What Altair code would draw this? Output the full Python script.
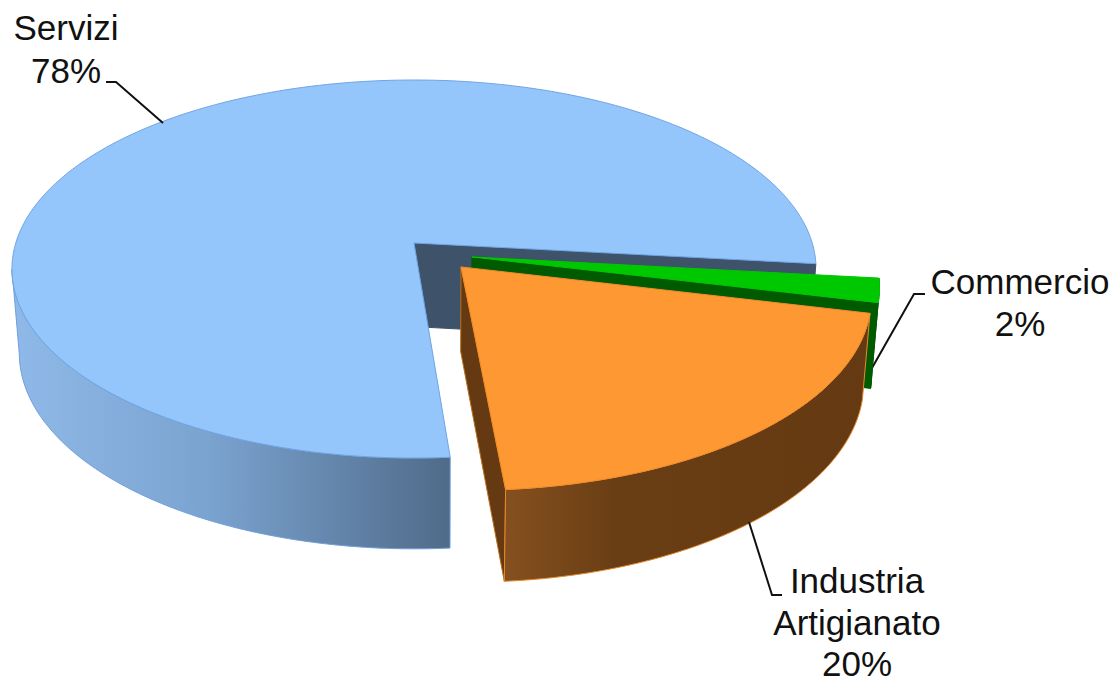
import math
import altair as alt
import pandas as pd

# ---- data
CATEGORIES = ["Servizi", "Industria Artigianato", "Commercio"]
SHARES = [78, 20, 2]
LABEL_LINES = [["Servizi"], ["Industria", "Artigianato"], ["Commercio"]]

# ---- layout of the perspective pie (image pixels)
D, F, G = 7.27, 2895.0, 1348.0
CX, AY = 414.0, 243.0
START_DEG = -6.3
OFFSETS = [(0.0, 0.0), (0.116, -0.127), (0.144, -0.0747)]
VANISH = (440.0, 5190.0)
W, H = 1101, 675


def proj(px, py):
    s = D + py
    return (CX + F * px / s, AY - G * py / s)


def drop(p):
    t = 0.0169 + (p[1] - 243.0) / 215.0 * 0.0023
    return (p[0] + t * (VANISH[0] - p[0]), p[1] + t * (VANISH[1] - p[1]))


def rim(off, a0, a1, n=None):
    n = n or max(2, int(abs(a1 - a0) * 1.5))
    out = []
    for k in range(n + 1):
        a = math.radians(a0 + (a1 - a0) * k / n)
        out.append(proj(off[0] + math.cos(a), off[1] + math.sin(a)))
    return out


def apex(off):
    return proj(off[0], off[1])


angles = [START_DEG]
for s in SHARES:
    angles.append(angles[-1] + s * 3.6)

X = alt.X("x:Q", scale=alt.Scale(domain=[8, 8 + W], nice=False, zero=False), axis=None)
Y = alt.Y("y:Q", scale=alt.Scale(domain=[8 + H, 8], nice=False, zero=False), axis=None)


def poly(points, fill, stroke, sw=1.0):
    pts = list(points) + [points[0]]
    df = pd.DataFrame({"x": [p[0] for p in pts], "y": [p[1] for p in pts], "i": range(len(pts))})
    return alt.Chart(df).mark_line(
        fill=fill, stroke=stroke, strokeWidth=sw, interpolate="linear", strokeJoin="round", clip=False
    ).encode(x=X, y=Y, order=alt.Order("i:Q"))


def leader(points):
    df = pd.DataFrame({"x": [p[0] for p in points], "y": [p[1] for p in points], "i": range(len(points))})
    return alt.Chart(df).mark_line(stroke="#111111", strokeWidth=2, clip=False).encode(
        x=X, y=Y, order=alt.Order("i:Q")
    )


def grad(stops):
    return alt.Gradient(
        gradient="linear", x1=0, x2=1, y1=0, y2=0,
        stops=[alt.GradientStop(offset=o, color=c) for o, c in stops],
    )


# blue slice
b_off = OFFSETS[0]
b_apex = apex(b_off)
b_rim = rim(b_off, angles[0], angles[1])
b_wall = [b_apex, b_rim[0], drop(b_rim[0]), drop(b_apex)]
b_front = rim(b_off, 188, angles[1])
b_side = b_front + [drop(p) for p in reversed(b_front)]
b_top = [b_apex] + b_rim

# orange slice
o_off = OFFSETS[1]
o_apex = apex(o_off)
o_rim = rim(o_off, angles[1], angles[2])
o_cut = [o_apex, drop(o_apex), drop(o_rim[0]), o_rim[0]]
o_side = o_rim + [drop(p) for p in reversed(o_rim)]
o_top = [o_apex] + o_rim

# green slice
g_off = OFFSETS[2]
g_apex = apex(g_off)
g_rim = rim(g_off, angles[2], angles[3], 8)
g_cut = [g_apex, g_rim[0], drop(g_rim[0]), drop(g_apex)]
g_side = g_rim + [drop(p) for p in reversed(g_rim)]
g_top = [g_apex] + g_rim

layers = [
    poly(b_wall, "#3e5269", "#3e5269"),
    poly(b_side, grad([(0, "#8fb9e8"), (0.45, "#7ba3d0"), (1, "#4f6b89")]), "#6f9fdc"),
    poly(b_top, "#95c6fb", "#6ea4e4"),
    leader([(868, 375), (914, 294), (925, 294)]),
    poly(g_cut, "#005a00", "#005a00"),
    poly(g_side, "#005a00", "#005a00"),
    poly(g_top, "#00c800", "#00c800"),
    poly(o_cut, "#653a12", "#b9701f"),
    poly(o_side, grad([(0, "#85501f"), (0.3, "#6a3e14"), (1, "#653a12")]), "#e8892a"),
    poly(o_top, "#fd9833", "#f08c28"),
    leader([(106, 82), (116, 82), (163, 123)]),
    leader([(749, 522), (772, 595), (782, 595)]),
]

# labels: category lines + percentage, centred in a block (first baseline, line step)
BLOCKS = [(66, 40, 43), (857, 593, 41.5), (1020, 293.5, 42.5)]
rows = []
for cat_lines, share, (bx, by, step) in zip(LABEL_LINES, SHARES, BLOCKS):
    lines = cat_lines + [f"{share}%"]
    for n, line in enumerate(lines):
        rows.append({"x": bx, "y": by + n * step, "t": line})
labels = alt.Chart(pd.DataFrame(rows)).mark_text(
    font="Liberation Sans", fontSize=35, align="center", baseline="alphabetic", color="#111111", clip=False
).encode(x=X, y=Y, text="t:N")
layers.append(labels)

chart = (
    alt.layer(*layers)
    .properties(width=W, height=H, padding=0, autosize=alt.AutoSizeParams(type="none"))
    .configure_view(stroke=None)
)
chart.save("out.html", embed_options={"renderer": "svg", "actions": False})
